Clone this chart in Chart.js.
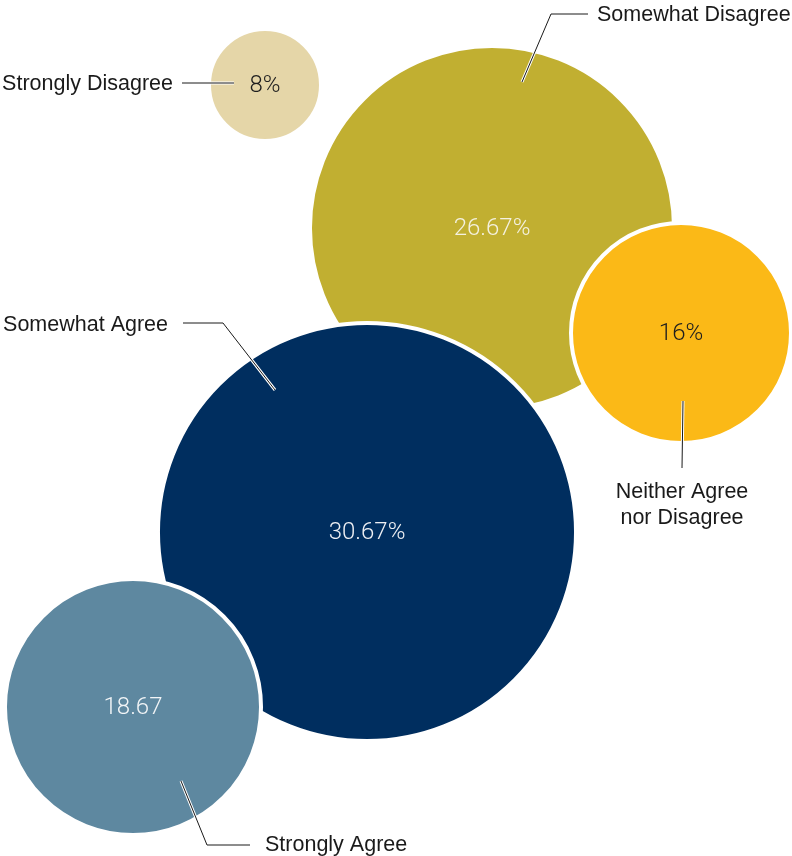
<!DOCTYPE html>
<html>
<head>
<meta charset="utf-8">
<script src="https://cdn.jsdelivr.net/npm/chart.js@4/dist/chart.umd.min.js"></script>
<style>
  body { margin: 0; background: #fff; }
  #wrap { width: 792px; height: 856px; position: relative; }
</style>
</head>
<body>
<div id="wrap"><canvas id="bubbles"></canvas></div>
<script>
// survey answers, share of respondents (%)
var answers = ['Somewhat Disagree', 'Neither Agree\nnor Disagree', 'Somewhat Agree', 'Strongly Agree', 'Strongly Disagree'];
var shares  = [26.67, 16, 30.67, 18.67, 8];
var shareLabels = ['26.67%', '16%', '30.67%', '18.67', '8%'];

// where each bubble sits on the packing grid (same order as above)
var packX = [492, 681, 367, 133, 265];
var packY = [228, 333, 532, 707, 85];

var fills     = ['#c1af31', '#fbb917', '#002e5f', '#5e88a0', '#e5d6a8'];
var textFills = ['#f4f1e0', '#1e1e1e', '#eef0f4', '#f2f5f7', '#1e1e1e'];

// leader line points + text anchor, relative to the bubble centre
var callouts = [
	{ pts: [[30, -146], [59, -214], [96, -214]], tx: 105, ty: -213, align: 'left' },
	{ pts: [[2, 68], [1, 135]], tx: 1, ty: 159, align: 'center' },
	{ pts: [[-92, -142], [-144, -209], [-184, -209]], tx: -199, ty: -207, align: 'right' },
	{ pts: [[48, 74], [74, 138], [117, 138]], tx: 132, ty: 138, align: 'left' },
	{ pts: [[-31, -2], [-83, -2]], tx: -92, ty: -1, align: 'right' }
];

var pxPerPoint = 6.75;
var points = [];
for (var i = 0; i < shares.length; i++) {
	points.push({ x: packX[i], y: packY[i], r: shares[i] * pxPerPoint + 2 });
}

var bubbleText = {
	id: 'bubbleText',
	afterDatasetsDraw: function(chart) {
		var ctx = chart.ctx;
		var els = chart.getDatasetMeta(0).data;
		ctx.save();
		for (var i = 0; i < els.length; i++) {
			var cx = els[i].x, cy = els[i].y;
			var c = callouts[i];

			// leader line: white halo under a thin dark stroke
			ctx.beginPath();
			ctx.moveTo(cx + c.pts[0][0], cy + c.pts[0][1]);
			for (var k = 1; k < c.pts.length; k++) {
				ctx.lineTo(cx + c.pts[k][0], cy + c.pts[k][1]);
			}
			ctx.lineJoin = 'miter';
			ctx.strokeStyle = '#ffffff';
			ctx.lineWidth = 3;
			ctx.stroke();
			ctx.strokeStyle = '#1a1a1a';
			ctx.lineWidth = 1;
			ctx.stroke();

			// answer label
			ctx.fillStyle = '#1a1a1a';
			ctx.font = '21.5px "Liberation Sans", Arial, sans-serif';
			ctx.textAlign = c.align;
			ctx.textBaseline = 'middle';
			var lines = answers[i].split('\n');
			for (var j = 0; j < lines.length; j++) {
				ctx.fillText(lines[j], cx + c.tx, cy + c.ty + j * 26);
			}

			// value inside the bubble
			ctx.fillStyle = textFills[i];
			ctx.font = '300 24px Roboto, "Liberation Sans", sans-serif';
			ctx.textAlign = 'center';
			ctx.fillText(shareLabels[i], cx, cy + 1);
		}
		ctx.restore();
	}
};

new Chart(document.getElementById('bubbles'), {
	type: 'bubble',
	data: {
		labels: answers,
		datasets: [{
			data: points,
			backgroundColor: fills,
			borderColor: '#ffffff',
			borderWidth: 4,
			hoverBorderWidth: 4,
			clip: false
		}]
	},
	options: {
		responsive: true,
		maintainAspectRatio: false,
		animation: false,
		events: [],
		layout: { padding: 0, autoPadding: false },
		plugins: {
			legend: { display: false },
			tooltip: { enabled: false }
		},
		scales: {
			x: { type: 'linear', min: 0, max: 792, display: false },
			y: { type: 'linear', min: 0, max: 856, reverse: true, display: false }
		}
	},
	plugins: [bubbleText]
});
</script>
</body>
</html>
